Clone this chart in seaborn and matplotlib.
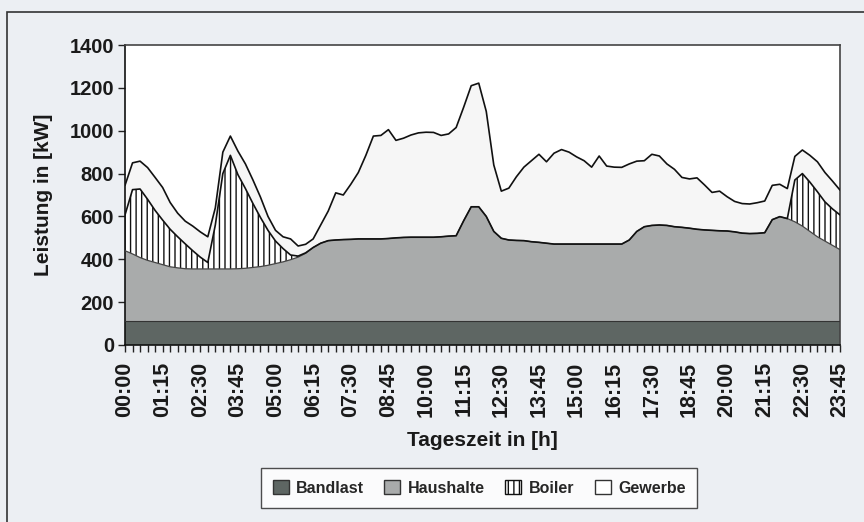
import numpy as np
import pandas as pd
import matplotlib
matplotlib.use("Agg")
import matplotlib.pyplot as plt
import matplotlib.patches as mpatches
import seaborn as sns

sns.set_style("white")
plt.rcParams['font.family'] = ['Liberation Sans', 'DejaVu Sans']
plt.rcParams['hatch.linewidth'] = 1.0

# quarter-hour time labels
times = [f"{h:02d}:{m:02d}" for h in range(24) for m in (0, 15, 30, 45)]

bandlast = [112] * 96

haushalte = [328, 313, 296, 283, 273, 263, 253, 248, 244, 243,
             243, 243, 243, 243, 243, 244, 246, 250, 254, 260,
             268, 276, 286, 298, 316, 343, 363, 375, 378, 380,
             381, 383, 383, 383, 383, 385, 388, 390, 391, 391,
             391, 391, 393, 396, 398, 468, 533, 533, 488, 418,
             386, 378, 376, 375, 370, 367, 363, 359, 359, 359,
             359, 359, 359, 359, 359, 359, 359, 378, 418, 440,
             446, 448, 446, 440, 437, 433, 428, 425, 423, 421,
             420, 416, 410, 408, 409, 412, 473, 487, 478, 463,
             443, 418, 393, 373, 353, 333]

boiler = [167, 300, 320, 285, 243, 208, 175, 145, 116, 85,
          55, 30, 205, 445, 530, 439, 372, 298, 229, 163,
          105, 62, 22, 5, 2, 0, 0, 0, 0, 0,
          0, 0, 0, 0, 0, 0, 0, 0, 0, 0,
          0, 0, 0, 0, 0, 0, 0, 0, 0, 0,
          0, 0, 0, 0, 0, 0, 0, 0, 0, 0,
          0, 0, 0, 0, 0, 0, 0, 0, 0, 0,
          0, 0, 0, 0, 0, 0, 0, 0, 0, 0,
          0, 0, 0, 0, 0, 0, 0, 0, 0, 195,
          245, 230, 210, 183, 170, 162]

gewerbe = [138, 125, 130, 148, 154, 152, 125, 110, 106, 115,
           118, 120, 80, 100, 90, 110, 115, 110, 95, 65,
           50, 55, 75, 47, 40, 40, 85, 138, 220, 208,
           257, 310, 390, 480, 483, 508, 455, 463, 477, 487,
           490, 489, 473, 477, 505, 530, 565, 577, 490, 310,
           220, 242, 297, 343, 378, 411, 380, 424, 441, 429,
           407, 389, 359, 411, 364, 359, 358, 355, 328, 308,
           332, 322, 287, 268, 233, 230, 240, 210, 177, 185,
           160, 142, 138, 138, 143, 148, 160, 151, 140, 110,
           110, 125, 140, 137, 130, 116]

series_names = ["Bandlast", "Haushalte", "Boiler", "Gewerbe"]

df = pd.DataFrame({"idx": np.arange(len(times)), "Zeit": times,
                   "Bandlast": bandlast, "Haushalte": haushalte,
                   "Boiler": boiler, "Gewerbe": gewerbe})
df["c1"] = df["Bandlast"]
df["c2"] = df["c1"] + df["Haushalte"]
df["c3"] = df["c2"] + df["Boiler"]
df["c4"] = df["c3"] + df["Gewerbe"]

fig = plt.figure(figsize=(8.64, 5.22), dpi=100)
fig.patch.set_facecolor("#eceff3")
ax = fig.add_axes([125/864, 1-345/522, (840-125)/864, 300/522])
ax.set_facecolor("white")

x = df["idx"].values
c_band = "#5e6663"
c_haus = "#a9abab"
c_gew = "#f6f6f6"

ax.fill_between(x, 0, df["c1"], facecolor=c_band, edgecolor="none", zorder=1)
ax.fill_between(x, df["c1"], df["c2"], facecolor=c_haus, edgecolor="none", zorder=1)
ax.fill_between(x, df["c2"], df["c3"], facecolor="white",
                hatch="|||", edgecolor="#111111", linewidth=0, zorder=1)
ax.fill_between(x, df["c3"], df["c4"], facecolor=c_gew, edgecolor="none", zorder=1)

sns.lineplot(data=df, x="idx", y="c1", ax=ax, color="#333333", linewidth=0.8, zorder=3)
sns.lineplot(data=df, x="idx", y="c2", ax=ax, color="#444444", linewidth=0.9, zorder=3)
sns.lineplot(data=df, x="idx", y="c3", ax=ax, color="#111111", linewidth=1.2, zorder=3)
sns.lineplot(data=df, x="idx", y="c4", ax=ax, color="#111111", linewidth=1.2, zorder=3)

ax.set_xlim(0, 95)
ax.set_ylim(0, 1400)
ax.set_yticks(range(0, 1401, 200))
ax.set_xticks(np.arange(0, 96, 5))
ax.set_xticklabels([times[i] for i in range(0, 96, 5)], rotation=90,
                   fontsize=15.5, fontweight="bold", color="#1a1a1a")
ax.set_xticks(np.arange(0, 96, 1), minor=True)
ax.tick_params(axis="x", which="both", direction="out", length=5, width=1,
               bottom=True, color="#222222", pad=7)
ax.tick_params(axis="y", direction="out", length=5, width=1, left=True,
               color="#222222", labelsize=14.5, pad=3)
for lab in ax.get_yticklabels():
    lab.set_fontweight("bold")
    lab.set_color("#1a1a1a")

ax.set_xlabel("Tageszeit in [h]", fontsize=15, fontweight="bold", labelpad=10, color="#1a1a1a")
ax.set_ylabel("Leistung in [kW]", fontsize=15, fontweight="bold", labelpad=12, color="#1a1a1a")

for s in ["left", "bottom"]:
    ax.spines[s].set_color("#111111")
    ax.spines[s].set_linewidth(1.2)
for s in ["top", "right"]:
    ax.spines[s].set_color("#444444")
    ax.spines[s].set_linewidth(1.2)

# outer chart frame
frame = mpatches.Rectangle((7/864, -0.05), 1.1, 1-12/522+0.05, transform=fig.transFigure,
                           fill=False, edgecolor="#333333", linewidth=1.2)
fig.patches.append(frame)

handles = [
    mpatches.Patch(facecolor=c_band, edgecolor="#333333", label="Bandlast"),
    mpatches.Patch(facecolor=c_haus, edgecolor="#333333", label="Haushalte"),
    mpatches.Patch(facecolor="white", edgecolor="#111111", hatch="|||", label="Boiler"),
    mpatches.Patch(facecolor="white", edgecolor="#333333", label="Gewerbe"),
]
leg = fig.legend(handles=handles, loc="center", bbox_to_anchor=(479/864, 1-488/522),
                 ncol=4, frameon=True, fancybox=False,
                 prop={"weight": "bold", "size": 11.5},
                 handlelength=1.0, handleheight=1.0, handletextpad=0.45,
                 columnspacing=1.3, borderpad=0.75, borderaxespad=0)
leg.get_frame().set_edgecolor("#222222")
leg.get_frame().set_linewidth(1.0)
leg.get_frame().set_facecolor("white")

fig.savefig("out.png", dpi=100, facecolor=fig.get_facecolor())
